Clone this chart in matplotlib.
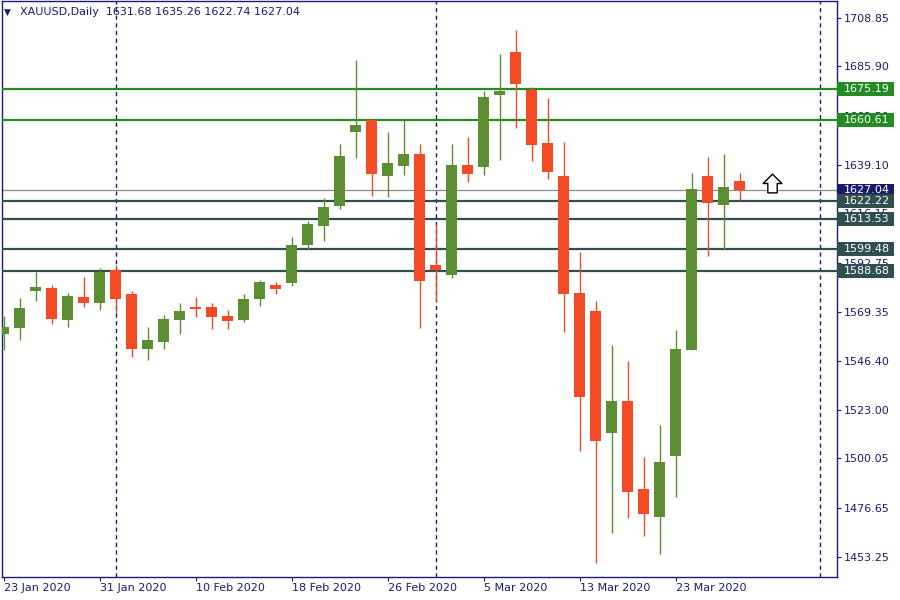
import matplotlib
matplotlib.use('Agg')
import matplotlib.pyplot as plt
import matplotlib.transforms as mtransforms
from matplotlib.patches import Rectangle
from matplotlib.path import Path

# daily XAUUSD candles, 23 Jan 2020 .. 27 Mar 2020
opens = [1559.0, 1562.0, 1579.5, 1580.8, 1565.8, 1576.5, 1573.8, 1589.4, 1578.0, 1552.0,
         1555.4, 1565.8, 1571.8, 1571.8, 1567.5, 1565.8, 1575.7, 1582.2, 1583.3, 1601.4,
         1610.4, 1619.9, 1654.9, 1660.5, 1634.1, 1638.8, 1644.4, 1591.7, 1587.0, 1639.1,
         1638.3, 1672.5, 1692.7, 1674.7, 1649.6, 1633.9, 1578.5, 1569.9, 1512.2, 1527.2,
         1485.5, 1472.4, 1501.3, 1551.6, 1633.9, 1620.3, 1631.68]
highs = [1567.5, 1576.1, 1588.4, 1582.2, 1578.5, 1586.0, 1590.3, 1591.7, 1579.4, 1562.3,
         1568.0, 1573.7, 1576.5, 1573.7, 1570.4, 1578.0, 1584.6, 1583.7, 1605.0, 1612.6,
         1623.5, 1649.1, 1688.9, 1660.6, 1654.8, 1660.5, 1649.1, 1611.2, 1649.1, 1652.4,
         1674.2, 1691.8, 1703.2, 1676.1, 1670.9, 1650.0, 1597.9, 1574.7, 1553.8, 1546.2,
         1500.7, 1515.9, 1560.9, 1635.4, 1642.9, 1644.4, 1635.26]
lows = [1551.4, 1556.2, 1574.8, 1563.9, 1562.5, 1572.0, 1570.5, 1569.1, 1548.2, 1546.8,
        1552.0, 1559.1, 1567.2, 1561.5, 1561.5, 1564.8, 1572.4, 1578.1, 1581.9, 1599.0,
        1603.2, 1618.4, 1642.6, 1624.6, 1624.1, 1634.5, 1562.0, 1574.8, 1585.6, 1631.2,
        1634.5, 1641.7, 1656.8, 1641.2, 1632.6, 1560.1, 1503.7, 1450.6, 1464.8, 1471.9,
        1463.3, 1454.8, 1481.9, 1551.6, 1596.1, 1599.0, 1622.74]
closes = [1562.5, 1571.3, 1581.3, 1566.2, 1577.0, 1573.8, 1588.4, 1575.7, 1552.0, 1556.2,
          1566.1, 1569.9, 1571.0, 1567.2, 1565.3, 1575.6, 1583.7, 1580.5, 1601.2, 1611.2,
          1619.2, 1643.4, 1658.1, 1635.0, 1640.1, 1644.4, 1584.3, 1589.4, 1639.1, 1635.0,
          1671.4, 1674.2, 1677.7, 1648.8, 1636.0, 1578.1, 1529.3, 1508.4, 1527.2, 1484.2,
          1473.8, 1498.3, 1551.9, 1627.8, 1621.3, 1628.7, 1627.04]

date_labels = ['23 Jan 2020', '31 Jan 2020', '10 Feb 2020', '18 Feb 2020',
               '26 Feb 2020', '5 Mar 2020', '13 Mar 2020', '23 Mar 2020']
date_ticks = [0, 6, 12, 18, 24, 30, 36, 42]
price_ticks = [1708.85, 1685.90, 1662.50, 1639.10, 1616.15, 1592.75,
               1569.35, 1546.40, 1523.00, 1500.05, 1476.65, 1453.25]

green_levels = [1675.19, 1660.61]
dark_levels = [1622.22, 1613.53, 1599.48, 1588.68]
bid = 1627.04
separators = [7, 27, 51]   # month separators
arrow_idx = 48
arrow_price = 1630.4

UP = '#5b8f31'
DOWN = '#f24b26'
NAVY = '#1b1b72'

fig = plt.figure(figsize=(9, 6), dpi=100)
ax = fig.add_axes([2 / 900, 23.5 / 600, 834.5 / 900, 575.5 / 600])

for i in range(len(opens)):
    o, h, l, c = opens[i], highs[i], lows[i], closes[i]
    col = UP if c >= o else DOWN
    ax.vlines(i, l, h, color=col, lw=1.0, zorder=4)
    body = max(abs(c - o), 0.6)
    ax.bar(i, body, bottom=min(o, c), width=0.69, color=col, zorder=5, linewidth=0)

for s in separators:
    ax.axvline(s, color=NAVY, lw=1.0, ls=(0, (3, 2.5)), zorder=1)

ax.axhline(bid, color='#8c8c8c', lw=0.9, zorder=2)
for y in green_levels:
    ax.axhline(y, color='#228b22', lw=1.6, zorder=3)
for y in dark_levels:
    ax.axhline(y, color='#2f4f4f', lw=1.6, zorder=3)

ax.set_xlim(-0.1, 52.06)
ax.set_ylim(1444.0, 1716.9)

# price labels on the right axis
blend = mtransforms.blended_transform_factory(ax.transAxes, ax.transData)
box_h = 6.6
box_w = 57 / 834.5
boxes = [(bid, '#1a1a6a')] + [(y, '#228b22') for y in green_levels] + [(y, '#2f4f4f') for y in dark_levels]
for k, (y, col) in enumerate(boxes):
    ax.add_patch(Rectangle((1.0, y - box_h / 2), box_w, box_h, transform=blend,
                           facecolor=col, edgecolor='none', clip_on=False, zorder=6 + k))
    ax.text(1 + 7 / 834.5, y, '%.2f' % y, transform=blend, color='white', fontsize=8,
            va='center', ha='left', clip_on=False, zorder=6 + k)

ax.yaxis.tick_right()
ax.set_yticks(price_ticks)
ax.set_yticklabels(['%.2f' % v for v in price_ticks])
ax.tick_params(axis='y', direction='out', length=3, pad=2.5, labelsize=8,
               colors=NAVY, width=0.8)
ax.set_xticks(date_ticks)
ax.set_xticklabels(date_labels)
ax.tick_params(axis='x', direction='out', length=3, pad=2, labelsize=8,
               colors=NAVY, width=0.8)
for lbl in ax.get_xticklabels():
    lbl.set_horizontalalignment('left')

for sp in ax.spines.values():
    sp.set_color(NAVY)
    sp.set_linewidth(1.0)

# buy arrow
arrow = Path([(0, 1), (1, 0), (0.5, 0), (0.5, -1), (-0.5, -1), (-0.5, 0), (-1, 0), (0, 1)],
             closed=True)
ax.plot(arrow_idx, arrow_price, marker=arrow, ms=13.5, mfc='white', mec='black',
        mew=1.0, zorder=9)

fig.text(4 / 900, 1 - 12 / 600, '\u25bc', fontsize=6.5, color=NAVY, va='center')
fig.text(20 / 900, 1 - 12 / 600, 'XAUUSD,Daily  %.2f %.2f %.2f %.2f' % (opens[-1], highs[-1], lows[-1], closes[-1]),
         fontsize=8, color=NAVY, va='center')

fig.savefig('out.png', dpi=100)
